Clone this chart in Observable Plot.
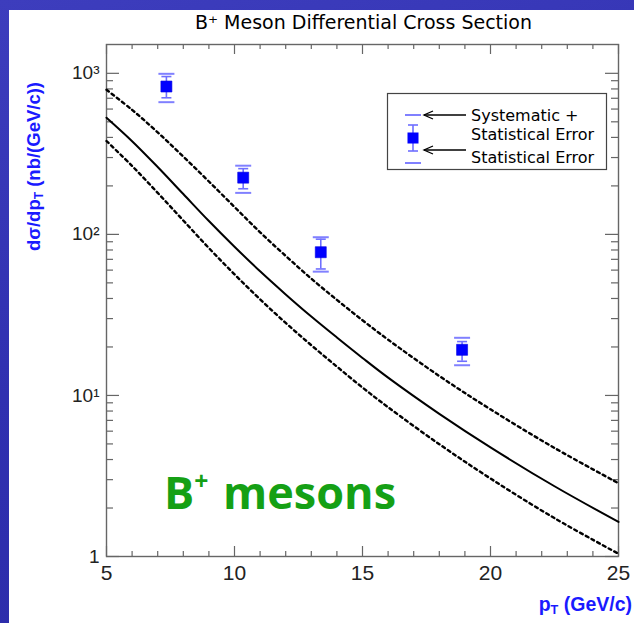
<!DOCTYPE html>
<html><head><meta charset="utf-8">
<script src="https://cdn.jsdelivr.net/npm/d3@7"></script>
<script src="https://cdn.jsdelivr.net/npm/@observablehq/plot@0.6"></script>
<style>
html,body{margin:0;padding:0;}
body{width:634px;height:623px;overflow:hidden;position:relative;
  background:linear-gradient(165deg,#3d3dbd 0%,#3030b0 50%,#2b2ba8 100%);
  font-family:"Liberation Sans",Arial,sans-serif;}
#panel{position:absolute;left:9px;top:10px;width:625px;height:613px;background:#fff;}
#panel svg{position:absolute;left:0;top:0;}
.title{position:absolute;top:1px;font-family:"DejaVu Sans",sans-serif;font-size:19px;color:#000;white-space:nowrap;text-align:center;}
.ylab{position:absolute;white-space:nowrap;color:#1a1aff;font-weight:bold;font-size:18.5px;line-height:22px;transform-origin:0 0;transform:rotate(-90deg);}
.xlab{position:absolute;white-space:nowrap;color:#1a1aff;font-weight:bold;font-size:19.5px;}
.annot{position:absolute;white-space:nowrap;color:#15a015;font-weight:bold;font-family:"Open Sans",sans-serif;font-size:45px;}
sub.t{font-size:65%;vertical-align:-0.25em;}
sup.p{font-size:55%;vertical-align:0.75em;margin-right:0.12em;}
</style></head><body>
<div id="panel"></div>
<script>
// ---------- data ----------
const ptX     = [7.34, 10.34, 13.37, 18.89];
const ptY     = [828, 225, 77.5, 19.2];
const statLo  = [705, 192, 61, 16.3];
const statHi  = [955, 256, 93.4, 21.6];
const sysLo   = [662, 181, 58.7, 15.4];
const sysHi   = [993, 267, 96, 22.8];

const curvePt = [5, 6, 7, 8, 9, 10, 11, 12, 13, 14, 15, 16, 18, 20, 22.5, 25];
const central = [530, 379, 262, 178, 121, 83.8, 59.0, 42.4, 30.9, 22.9, 17.1, 12.9, 7.69, 4.76, 2.73, 1.64];
const upper   = [790, 593, 430, 304, 213, 148, 103, 73.5, 53.1, 39.2, 29.3, 22.2, 13.2, 8.2, 4.72, 2.85];
const lower   = [380, 266, 181, 122, 82.2, 56.5, 39.5, 28.2, 20.5, 15.1, 11.2, 8.45, 4.98, 3.05, 1.73, 1.04];

const xMajor = [5, 10, 15, 20, 25];
const xMinor = d3.range(5, 26).filter(v => v % 5 !== 0);
const yMajor = [1, 10, 100, 1000];
const yMinor = [1, 10, 100].flatMap(d => [2,3,4,5,6,7,8,9].map(k => k * d));
const yTickText = ["1", "10\u00B9", "10\u00B2", "10\u00B3"];

const titleText = "B\u207A Meson Differential Cross Section";
const legendLabels = ["Systematic +", "Statistical Error", "Statistical Error"];

// ---------- layout ----------
const W = 625, H = 613, mL = 97, mR = 16, mT = 34, mB = 67;
const fw = W - mL - mR, fh = H - mT - mB;

const hline = {draw(ctx, size){ const r = Math.sqrt(size / Math.PI); ctx.moveTo(-r, 0); ctx.lineTo(r, 0); }};
const square = {draw(ctx, size){ const r = Math.sqrt(size / Math.PI); ctx.rect(-r, -r, 2*r, 2*r); }};

const pts = ptX.map((x, i) => ({x, y: ptY[i], sl: statLo[i], sh: statHi[i], yl: sysLo[i], yh: sysHi[i]}));
const curves = curvePt.map((pt, i) => ({pt, c: central[i], u: upper[i], l: lower[i]}));

const tickColor = "#666";
const barColor = "#6f6fff", sysColor = "#8080ff";

const chart = Plot.plot({
  width: W, height: H,
  marginLeft: mL, marginRight: mR, marginTop: mT, marginBottom: mB,
  x: {domain: [5, 25], axis: null},
  y: {type: "log", domain: [1, 1510], axis: null},
  style: {background: "transparent", overflow: "visible"},
  marks: [
    // ticks (inward, mirrored)
    Plot.ruleX(xMinor, {x: d => d, insetTop: fh - 5, stroke: tickColor, strokeWidth: 1.2}),
    Plot.ruleX(xMinor, {x: d => d, insetBottom: fh - 5, stroke: tickColor, strokeWidth: 1.2}),
    Plot.ruleX(xMajor, {x: d => d, insetTop: fh - 10, stroke: tickColor, strokeWidth: 1.2}),
    Plot.ruleX(xMajor, {x: d => d, insetBottom: fh - 10, stroke: tickColor, strokeWidth: 1.2}),
    Plot.ruleY(yMinor, {y: d => d, insetRight: fw - 7, stroke: tickColor, strokeWidth: 1.2}),
    Plot.ruleY(yMinor, {y: d => d, insetLeft: fw - 7, stroke: tickColor, strokeWidth: 1.2}),
    Plot.ruleY(yMajor, {y: d => d, insetRight: fw - 13, stroke: tickColor, strokeWidth: 1.2}),
    Plot.ruleY(yMajor, {y: d => d, insetLeft: fw - 13, stroke: tickColor, strokeWidth: 1.2}),
    Plot.frame({stroke: tickColor, strokeWidth: 1.4}),
    // tick labels
    Plot.text(xMajor, {x: d => d, frameAnchor: "bottom", dy: 23, text: d => String(d), fontSize: 21, fill: "#222", fontFamily: "Liberation Sans"}),
    Plot.text(yMajor, {y: d => d, frameAnchor: "left", dx: -7, textAnchor: "end", text: (d, i) => yTickText[i], fontSize: 19, fill: "#222", fontFamily: "Liberation Sans"}),
    // theory curves
    Plot.line(curves, {x: "pt", y: "u", stroke: "#000", strokeWidth: 2.4, strokeDasharray: "3,3.5", curve: "catmull-rom"}),
    Plot.line(curves, {x: "pt", y: "l", stroke: "#000", strokeWidth: 2.4, strokeDasharray: "3,3.5", curve: "catmull-rom"}),
    Plot.line(curves, {x: "pt", y: "c", stroke: "#000", strokeWidth: 2, curve: "catmull-rom"}),
    // data: error bars
    Plot.ruleX(pts, {x: "x", y1: "sl", y2: "sh", stroke: barColor, strokeWidth: 1.6}),
    Plot.dot(pts, {x: "x", y: "sl", symbol: hline, r: 5, stroke: barColor, strokeWidth: 1.6}),
    Plot.dot(pts, {x: "x", y: "sh", symbol: hline, r: 5, stroke: barColor, strokeWidth: 1.6}),
    Plot.dot(pts, {x: "x", y: "yl", symbol: hline, r: 8, stroke: sysColor, strokeWidth: 2}),
    Plot.dot(pts, {x: "x", y: "yh", symbol: hline, r: 8, stroke: sysColor, strokeWidth: 2}),
    Plot.dot(pts, {x: "x", y: "y", symbol: square, r: 5.5, fill: "#0000ff", stroke: "#0000e0", strokeWidth: 0.6})
  ]
});
const panel = document.getElementById("panel");
panel.appendChild(chart);

// title
const t = document.createElement("div");
t.className = "title";
t.style.left = "0px"; t.style.width = "709px";
t.textContent = titleText;
panel.appendChild(t);

// y label: rotated about its top-left corner; (left, top) = left edge, bottom end
const yl = document.createElement("div");
yl.className = "ylab";
yl.style.left = "14px"; yl.style.top = "241px";
yl.innerHTML = "d\u03C3/dp<sub class='t'>T</sub> (nb/(GeV/c))";
panel.appendChild(yl);

// x label
const xl = document.createElement("div");
xl.className = "xlab";
xl.style.right = "2px"; xl.style.top = "583px";
xl.innerHTML = "p<sub class='t'>T</sub> (GeV/c)";
panel.appendChild(xl);

// annotation
const an = document.createElement("div");
an.className = "annot";
an.style.left = "155px"; an.style.top = "451px";
an.innerHTML = "B<sup class='p'>+</sup> mesons";
panel.appendChild(an);

// legend (panel coords)
const lg = d3.select(panel).append("svg")
  .attr("width", W).attr("height", H)
  .style("pointer-events", "none");
const bx = 387 - 9, by = 93 - 10, bw = 219, bh = 76;
lg.append("rect").attr("x", bx + 0.5).attr("y", by + 0.5).attr("width", bw).attr("height", bh)
  .attr("fill", "#fff").attr("stroke", "#444").attr("stroke-width", 1.2);
const sx = bx + 26;
[22, 70].forEach(dy => lg.append("line").attr("x1", sx - 8).attr("x2", sx + 8).attr("y1", by + dy).attr("y2", by + dy)
  .attr("stroke", sysColor).attr("stroke-width", 2));
[32, 58].forEach(dy => lg.append("line").attr("x1", sx - 5).attr("x2", sx + 5).attr("y1", by + dy).attr("y2", by + dy)
  .attr("stroke", barColor).attr("stroke-width", 1.6));
lg.append("line").attr("x1", sx).attr("x2", sx).attr("y1", by + 32).attr("y2", by + 58).attr("stroke", barColor).attr("stroke-width", 1.6);
lg.append("rect").attr("x", sx - 5.5).attr("y", by + 39.5).attr("width", 11).attr("height", 11).attr("fill", "#0000ff");
[22, 57].forEach(dy => {
  const y = by + dy;
  lg.append("line").attr("x1", sx + 53).attr("x2", sx + 11).attr("y1", y).attr("y2", y).attr("stroke", "#000").attr("stroke-width", 1.3);
  lg.append("path").attr("d", `M${sx + 20},${y - 4} L${sx + 11},${y} L${sx + 20},${y + 4}`).attr("fill", "none").attr("stroke", "#000").attr("stroke-width", 1.3);
});
const lx = sx + 58;
[[legendLabels[0], 23], [legendLabels[1], 42], [legendLabels[2], 65]].forEach(([s, dy]) => {
  lg.append("text").attr("x", lx).attr("y", by + dy + 5).text(s)
    .attr("font-family", "DejaVu Sans").attr("font-size", 16).attr("fill", "#000");
});
</script>
</body></html>
